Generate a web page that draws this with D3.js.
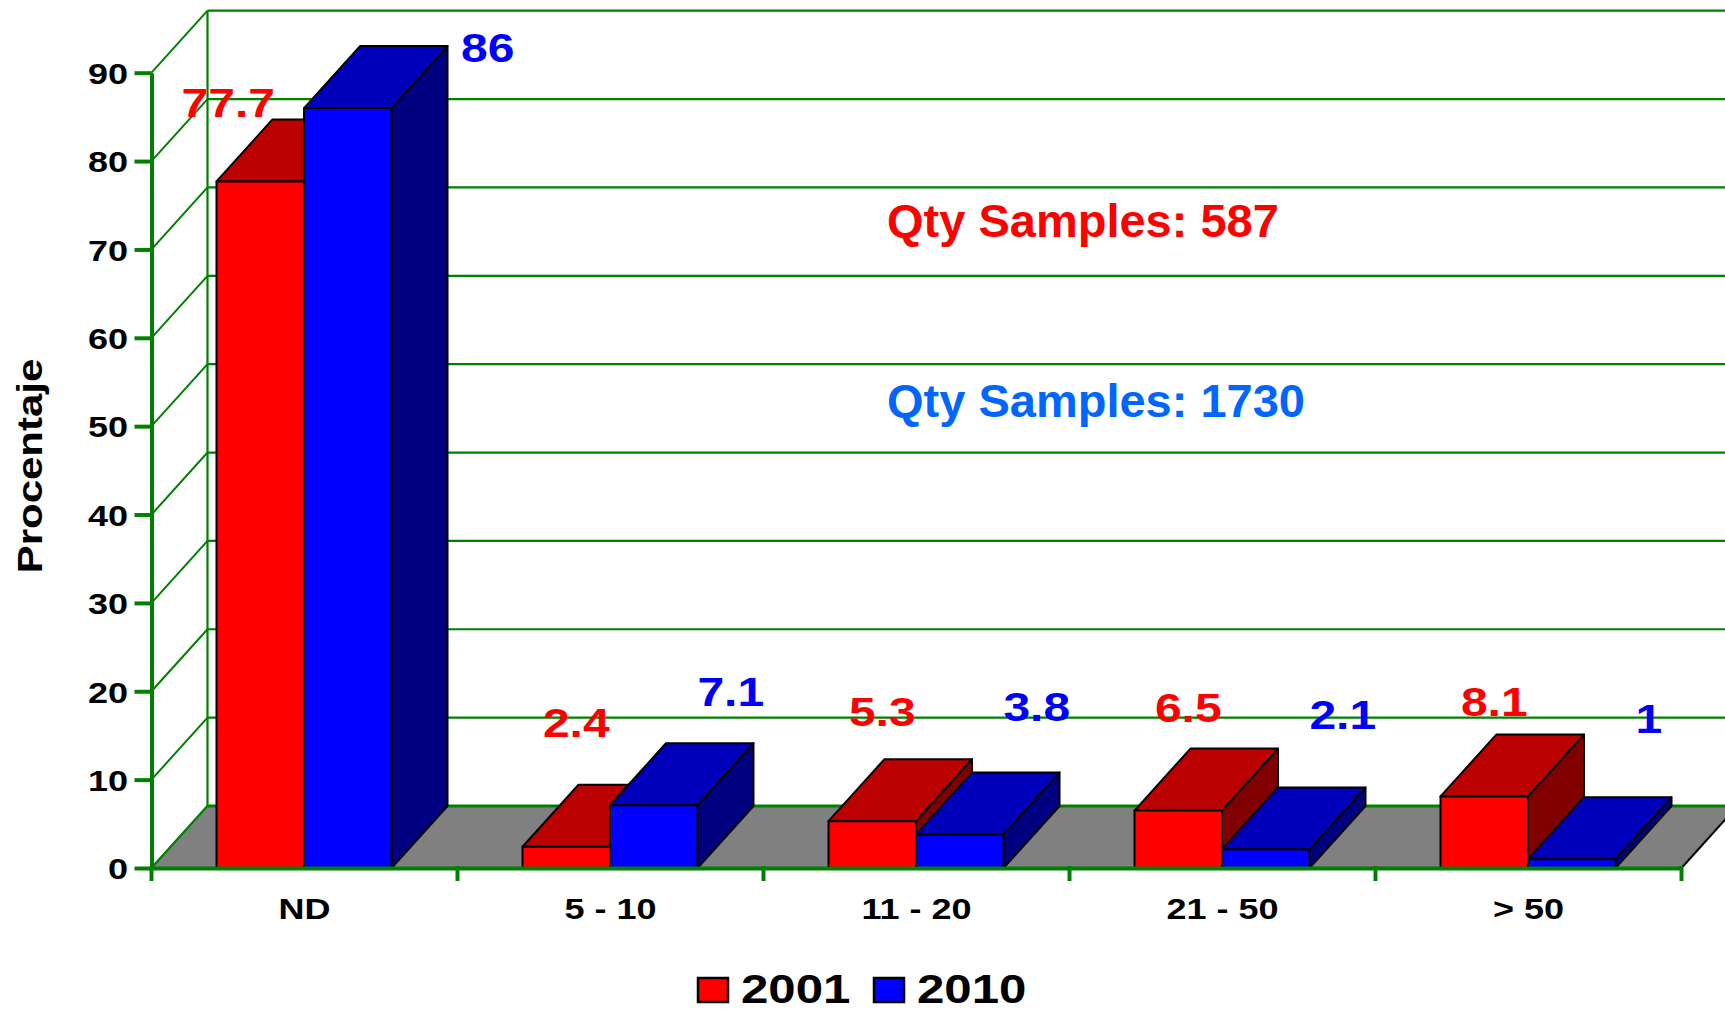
<!DOCTYPE html>
<html><head><meta charset="utf-8">
<script src="https://cdn.jsdelivr.net/npm/d3@7"></script>
<style>html,body{margin:0;padding:0;background:#fff;overflow:hidden}</style>
</head><body><svg id="c" width="1725" height="1013"></svg>
<script>
// ---- data ----
const categories = ["ND", "5 - 10", "11 - 20", "21 - 50", "> 50"];
const series = ["2001", "2010"];
const values2001 = [77.7, 2.4, 5.3, 6.5, 8.1];
const values2010 = [86, 7.1, 3.8, 2.1, 1];
const yTicks = [0, 10, 20, 30, 40, 50, 60, 70, 80, 90];
const annotations = ["Qty Samples: 587", "Qty Samples: 1730"];
const yTitle = "Procentaje";

// ---- layout / style ----
const W = 1725, H = 1013;
const FONT = '"Liberation Sans", Arial, Helvetica, sans-serif';
const GREEN = '#008000';
const DX = 56, DY = -62;           // 3D depth offset
const STRETCH = 1.2;               // horizontal text stretch of the chart fonts
const colors = {
  "2001": {front: '#FF0000', top: '#BB0000', side: '#800000', label: '#FF0000', lx: 10, lift: 123, k: 0.4},
  "2010": {front: '#0000FF', top: '#0000BB', side: '#000080', label: '#0000FF', lx: 77, lift: 130, k: 0.51}
};
const annColors = ['#FF0000', '#0066FF'];

const svg = d3.select('#c');
svg.append('rect').attr('width', W).attr('height', H).attr('fill', '#fff');

const y = d3.scaleLinear().domain([0, 90]).range([868, 72.7]);
const x = d3.scaleBand().domain(categories).range([151.5, 1681.5]);
const xs = d3.scaleBand().domain(series).range([65, 240]);
const x0 = x.range()[0], x1 = x.range()[1];
const data = series.map((s, i) => ({key: s, values: i === 0 ? values2001 : values2010}));

// ---- back wall ----
const back = svg.append('g');
back.selectAll('line.grid').data(yTicks).join('line')
  .attr('x1', x0 + DX).attr('x2', W + 20)
  .attr('y1', d => y(d) + DY).attr('y2', d => y(d) + DY)
  .attr('stroke', GREEN).attr('stroke-width', 2.2);
back.append('line')
  .attr('x1', x0 + DX).attr('x2', x0 + DX)
  .attr('y1', y(90) + DY).attr('y2', y(0) + DY)
  .attr('stroke', GREEN).attr('stroke-width', 2.2);
back.selectAll('line.diag').data(yTicks).join('line')
  .attr('x1', x0).attr('y1', d => y(d))
  .attr('x2', x0 + DX).attr('y2', d => y(d) + DY)
  .attr('stroke', GREEN).attr('stroke-width', 2);

// ---- floor ----
svg.append('polygon')
  .attr('points', [[x0, y(0)], [x1, y(0)], [x1 + DX, y(0) + DY], [x0 + DX, y(0) + DY]].map(p => p.join(',')).join(' '))
  .attr('fill', '#808080');
svg.append('line').attr('x1', x0 + DX).attr('x2', W + 20).attr('y1', y(0) + DY).attr('y2', y(0) + DY)
  .attr('stroke', GREEN).attr('stroke-width', 3);
svg.append('line').attr('x1', x0).attr('y1', y(0)).attr('x2', x0 + DX).attr('y2', y(0) + DY)
  .attr('stroke', GREEN).attr('stroke-width', 2);
svg.append('line').attr('x1', x1).attr('y1', y(0)).attr('x2', x1 + DX).attr('y2', y(0) + DY)
  .attr('stroke', '#000').attr('stroke-width', 2);

// ---- bars ----
const barsG = svg.append('g');
const bars = [];
categories.forEach((c, i) => {
  data.forEach(s => bars.push({cat: c, key: s.key, v: s.values[i]}));
});
bars.forEach(b => {
  const bx = x(b.cat) + xs(b.key), w = xs.bandwidth();
  const yt = y(b.v), yb = y(0);
  const col = colors[b.key];
  const g = barsG.append('g').attr('stroke', '#000').attr('stroke-width', 2).attr('stroke-linejoin', 'round');
  g.append('polygon')
    .attr('points', [[bx + w, yt], [bx + w + DX, yt + DY], [bx + w + DX, yb + DY], [bx + w, yb]].map(p => p.join(',')).join(' '))
    .attr('fill', col.side);
  g.append('polygon')
    .attr('points', [[bx, yt], [bx + w, yt], [bx + w + DX, yt + DY], [bx + DX, yt + DY]].map(p => p.join(',')).join(' '))
    .attr('fill', col.top);
  g.append('rect').attr('x', bx).attr('y', yt).attr('width', w).attr('height', yb - yt).attr('fill', col.front);
});

// ---- value labels ----
bars.forEach(b => {
  const bx = x(b.cat) + xs(b.key), w = xs.bandwidth();
  const cx = bx + w / 2;
  const col = colors[b.key];
  let lx = cx + col.lx;
  let ly = y(0) - col.lift - col.k * (y(0) - y(b.v));
  if (b.v > 50) {
    if (b.key === "2010") { lx = cx + 140; ly = y(b.v) + DY + 16; }
    else { lx = cx - 32; ly = y(b.v) + DY - 2; }
  }
  svg.append('text')
    .attr('transform', `translate(${lx},${ly}) scale(${STRETCH},1)`)
    .attr('text-anchor', 'middle')
    .attr('font-family', FONT).attr('font-weight', 'bold').attr('font-size', 40)
    .attr('fill', col.label)
    .text(b.v);
});

// ---- axes ----
const yAxis = d3.axisLeft(y).tickValues(yTicks).tickSize(17).tickSizeOuter(0).tickFormat(d3.format('d'));
const gy = svg.append('g').attr('transform', `translate(${x0},0)`).call(yAxis);
gy.select('.domain').attr('stroke', GREEN).attr('stroke-width', 4);
gy.selectAll('.tick line').attr('stroke', GREEN).attr('stroke-width', 4);
gy.selectAll('.tick text')
  .attr('x', -23.5 / STRETCH).attr('dy', '0.36em')
  .attr('transform', `scale(${STRETCH},1)`)
  .attr('font-family', FONT).attr('font-weight', 'bold').attr('font-size', 30).attr('fill', '#000');

const xAxis = d3.axisBottom(x).tickSize(0).tickSizeOuter(0).tickPadding(30);
const gx = svg.append('g').attr('transform', `translate(0,${y(0)})`).call(xAxis);
gx.select('.domain').attr('stroke', GREEN).attr('stroke-width', 4);
gx.selectAll('.tick text')
  .attr('transform', `scale(${STRETCH},1)`)
  .attr('font-family', FONT).attr('font-weight', 'bold').attr('font-size', 30).attr('fill', '#000');
const bounds = [x0].concat(categories.map(c => x(c) + x.bandwidth()));
gx.selectAll('line.bound').data(bounds).join('line')
  .attr('x1', d => d).attr('x2', d => d).attr('y1', -2).attr('y2', 13)
  .attr('stroke', GREEN).attr('stroke-width', 4);

// ---- y title ----
svg.append('text')
  .attr('transform', `translate(42,466) rotate(-90) scale(${STRETCH},1)`)
  .attr('text-anchor', 'middle')
  .attr('font-family', FONT).attr('font-weight', 'bold').attr('font-size', 35).attr('fill', '#000')
  .text(yTitle);

// ---- annotations ----
annotations.forEach((t, i) => {
  svg.append('text').attr('x', 887).attr('y', 237 + i * 180)
    .attr('font-family', FONT).attr('font-weight', 'bold').attr('font-size', 47)
    .attr('fill', annColors[i]).text(t);
});

// ---- legend ----
const leg = svg.append('g');
series.forEach((s, i) => {
  const lx = 698 + i * 176;
  leg.append('rect').attr('x', lx).attr('y', 978).attr('width', 30).attr('height', 24)
    .attr('fill', colors[s].front).attr('stroke', '#000').attr('stroke-width', 2.5);
  leg.append('text')
    .attr('transform', `translate(${lx + 43},1003) scale(${STRETCH},1)`)
    .attr('font-family', FONT).attr('font-weight', 'bold').attr('font-size', 41).attr('fill', '#000')
    .text(s);
});
</script></body></html>
